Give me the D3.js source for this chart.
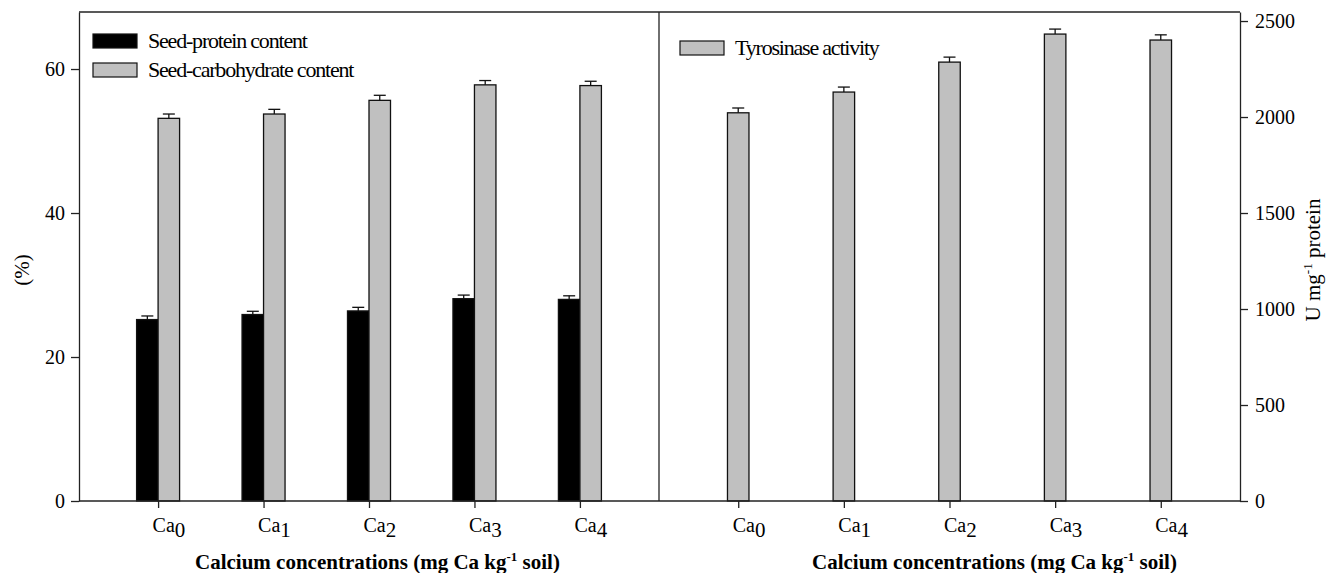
<!DOCTYPE html>
<html>
<head>
<meta charset="utf-8">
<script src="https://cdn.jsdelivr.net/npm/d3@7"></script>
<style>
  body { margin: 0; background: #fff; }
  text { font-family: "Liberation Serif", "Times New Roman", serif; fill: #000; }
</style>
</head>
<body>
<div id="chart"></div>
<script>
// data
const categories = ['0', '1', '2', '3', '4'];
const proteinVals = [25.2, 25.9, 26.4, 28.1, 28.0];
const proteinErr  = [0.5, 0.45, 0.5, 0.5, 0.5];
const carbVals    = [53.15, 53.75, 55.65, 57.8, 57.7];
const carbErr     = [0.6, 0.65, 0.7, 0.6, 0.6];
const tyroVals    = [2022, 2130, 2286, 2432, 2401];
const tyroErr     = [25, 26, 26, 26, 27];
const leftTicks   = [0, 20, 40, 60];
const rightTicks  = [0, 500, 1000, 1500, 2000, 2500];

const W = 1328, H = 573;
const yTop = 12, yBot = 501;
const L0 = 79, L1 = 659, R1 = 1240;
const barW = 21.5;
const serif = '"Liberation Serif", "Times New Roman", serif';

const svg = d3.select('#chart').append('svg')
  .attr('width', W).attr('height', H);

const xL = d3.scalePoint().domain(categories).range([L0, L1]).padding(0.75);
const xR = d3.scalePoint().domain(categories).range([L1, R1]).padding(0.75);
const yL = d3.scaleLinear().domain([0, 67.92]).range([yBot, yTop]);
const yR = d3.scaleLinear().domain([0, 2547]).range([yBot, yTop]);

const gray = '#c0c0c0';

// bars + error bars
function drawBars(vals, errs, x, y, offset, fill) {
  const g = svg.append('g');
  g.selectAll('rect').data(vals).join('rect')
    .attr('x', (d, i) => x(categories[i]) + offset)
    .attr('y', d => y(d))
    .attr('width', barW)
    .attr('height', d => yBot - y(d))
    .attr('fill', fill)
    .attr('stroke', '#111')
    .attr('stroke-width', 1.3);
  const cx = (i) => x(categories[i]) + offset + barW / 2;
  g.selectAll('line.v').data(vals).join('line').attr('class', 'v')
    .attr('x1', (d, i) => cx(i)).attr('x2', (d, i) => cx(i))
    .attr('y1', d => y(d)).attr('y2', (d, i) => y(d + errs[i]))
    .attr('stroke', '#111').attr('stroke-width', 1.3);
  g.selectAll('line.c').data(vals).join('line').attr('class', 'c')
    .attr('x1', (d, i) => cx(i) - 6).attr('x2', (d, i) => cx(i) + 6)
    .attr('y1', (d, i) => y(d + errs[i])).attr('y2', (d, i) => y(d + errs[i]))
    .attr('stroke', '#111').attr('stroke-width', 1.3);
}
drawBars(proteinVals, proteinErr, xL, yL, -barW, '#000');
drawBars(carbVals, carbErr, xL, yL, 0, gray);
drawBars(tyroVals, tyroErr, xR, yR, -barW / 2, gray);

// frame
const frame = svg.append('g').attr('stroke', '#222').attr('stroke-width', 1.3).attr('fill', 'none');
frame.append('line').attr('x1', L0).attr('x2', R1).attr('y1', yTop).attr('y2', yTop);
frame.append('line').attr('x1', L1).attr('x2', L1).attr('y1', yTop).attr('y2', yBot);

// axes
function styleAxis(g) {
  g.attr('font-family', serif);
  g.select('.domain').attr('stroke', '#222').attr('stroke-width', 1.3);
  g.selectAll('.tick line').attr('stroke', '#222').attr('stroke-width', 1.3);
  g.selectAll('.tick text').style('font-family', serif).style('font-size', '20px').attr('fill', '#000');
}

svg.append('g').attr('transform', `translate(${L0},0)`)
  .call(d3.axisLeft(yL).tickValues(leftTicks).tickFormat(d3.format('d'))
    .tickSize(8).tickPadding(6).tickSizeOuter(0))
  .call(styleAxis);

svg.append('g').attr('transform', `translate(${R1},0)`)
  .call(d3.axisRight(yR).tickValues(rightTicks).tickFormat(d3.format('d'))
    .tickSize(8).tickPadding(7).tickSizeOuter(0))
  .call(styleAxis);

function xAxis(x, x0, x1, titleX) {
  const g = svg.append('g').attr('transform', `translate(0,${yBot})`)
    .call(d3.axisBottom(x).tickSize(7).tickSizeOuter(0).tickFormat(''))
    .call(styleAxis);
  g.select('.domain').remove();
  g.append('line').attr('x1', x0).attr('x2', x1).attr('y1', 0).attr('y2', 0)
    .attr('stroke', '#222').attr('stroke-width', 1.3);
  const lab = g.selectAll('.tick').append('text')
    .attr('y', 31).attr('x', -6).attr('text-anchor', 'start')
    .style('font-size', '20px').style('font-family', serif)
    .attr('fill', '#000');
  lab.append('tspan').text('Ca');
  lab.append('tspan').attr('dy', 5).style('font-size', '21px').text(d => d);

  const t = svg.append('text')
    .attr('x', titleX).attr('y', 569).attr('text-anchor', 'start')
    .style('font-size', '21px').style('font-weight', 'bold');
  t.append('tspan').text('Calcium concentrations (mg Ca kg');
  t.append('tspan').attr('dy', -8).style('font-size', '13px').text('-1');
  t.append('tspan').attr('dy', 8).text(' soil)');
}
xAxis(xL, L0, L1, 195);
xAxis(xR, L1, R1, 812);

// axis titles
svg.append('text')
  .attr('transform', 'translate(29,270) rotate(-90)')
  .attr('text-anchor', 'middle').style('font-size', '21px').text('(%)');

const yt = svg.append('text')
  .attr('transform', 'translate(1320,260) rotate(-90)')
  .attr('text-anchor', 'middle').style('font-size', '21px');
yt.append('tspan').text('U mg');
yt.append('tspan').attr('dy', -8).style('font-size', '13px').text('-1');
yt.append('tspan').attr('dy', 8).text(' protein');

// legends
const legendL = [
  { label: 'Seed-protein content', fill: '#000' },
  { label: 'Seed-carbohydrate content', fill: gray }
];
const lg = svg.append('g');
legendL.forEach((d, i) => {
  lg.append('rect').attr('x', 93).attr('y', 34 + i * 29).attr('width', 44).attr('height', 14)
    .attr('fill', d.fill).attr('stroke', '#111').attr('stroke-width', 1.2);
  lg.append('text').attr('x', 148).attr('y', 48 + i * 29)
    .style('font-size', '22px').style('letter-spacing', '-1.2px').text(d.label);
});
svg.append('rect').attr('x', 680).attr('y', 41).attr('width', 44).attr('height', 14)
  .attr('fill', gray).attr('stroke', '#111').attr('stroke-width', 1.2);
svg.append('text').attr('x', 735).attr('y', 55)
  .style('font-size', '22px').style('letter-spacing', '-1.2px').text('Tyrosinase activity');
</script>
</body>
</html>
